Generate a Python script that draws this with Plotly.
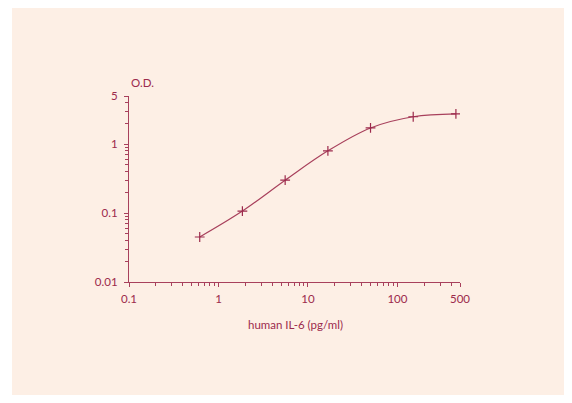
import plotly.graph_objects as go
import numpy as np

# Data (human IL-6 standard curve)
concentration = [0.617, 1.85, 5.56, 16.7, 50, 150, 450]
od = [0.045, 0.107, 0.30, 0.80, 1.72, 2.5, 2.75]

x_tickvals = [0.1, 1, 10, 100, 500]
x_ticktext = ["0.1", "1", "10", "100", "500"]
y_tickvals = [0.01, 0.1, 1, 5]
y_ticktext = ["0.01", "0.1", "1", "5"]

x_title = "human IL-6 (pg/ml)"
y_title = "O.D."

MAROON = "#9c2a4c"
LINE = "#a8405c"
BG = "#fdefe5"
FONT = "Lato"
FS = 11.5

# minor tick values
x_minor = [m * 10.0 ** e for e in range(-1, 3) for m in range(2, 10) if m * 10.0 ** e < 500]
y_minor = [m * 10.0 ** e for e in range(-2, 1) for m in range(2, 10) if m * 10.0 ** e < 5]

OFF = 8  # page body margin
W, H = 572 - 2 * OFF, 403 - 2 * OFF
L, R, T, B = 129 - OFF, 460 - OFF, 96 - OFF, 282 - OFF
pw, ph = R - L, B - T

def px(xp):
    return (xp - OFF - L) / pw

def py(yp):
    return (B - (yp - OFF)) / ph

fig = go.Figure()
fig.add_trace(go.Scatter(
    x=concentration, y=od, mode="lines+markers",
    line=dict(color=LINE, width=1.2, shape="spline", smoothing=1.0),
    marker=dict(symbol="cross-thin", size=7, line=dict(color=MAROON, width=1.2), color=MAROON),
    showlegend=False, hoverinfo="x+y",
))

axis_common = dict(
    type="log", showgrid=False, zeroline=False, showline=True,
    linecolor=LINE, linewidth=1.2, ticks="outside", ticklen=4, tickwidth=1,
    tickcolor=LINE, tickfont=dict(family=FONT, size=FS, color=MAROON),
    mirror=False,
)

fig.update_xaxes(
    **axis_common,
    range=[np.log10(0.1), np.log10(500)],
    tickmode="array", tickvals=x_tickvals, ticktext=x_ticktext,
    minor=dict(tickmode="array", tickvals=x_minor, ticks="outside", ticklen=3,
               tickcolor=LINE, tickwidth=1, showgrid=False),
    ticklabelstandoff=2,
)
fig.update_yaxes(
    **axis_common,
    range=[np.log10(0.01), np.log10(5)],
    tickmode="array", tickvals=y_tickvals, ticktext=y_ticktext,
    minor=dict(tickmode="array", tickvals=y_minor, ticks="outside", ticklen=3,
               tickcolor=LINE, tickwidth=1, showgrid=False),
    ticklabelstandoff=4,
)

fig.add_shape(type="rect", xref="paper", yref="paper",
              x0=px(12), x1=px(566), y0=py(420), y1=py(0),
              fillcolor=BG, line=dict(width=0), layer="below")

fig.add_annotation(text=y_title, xref="paper", yref="paper", x=px(129), y=py(82),
                   xanchor="left", yanchor="middle", showarrow=False,
                   font=dict(family=FONT, size=FS, color=MAROON))
fig.add_annotation(text=x_title, xref="paper", yref="paper", x=px(295), y=py(324),
                   xanchor="center", yanchor="middle", showarrow=False,
                   font=dict(family=FONT, size=FS, color=MAROON))

fig.update_layout(
    width=W, height=H,
    margin=dict(l=L, r=W - R, t=T, b=H - B, autoexpand=False),
    paper_bgcolor="white", plot_bgcolor="rgba(0,0,0,0)",
    font=dict(family=FONT, color=MAROON),
)

fig.write_html("out.html")
